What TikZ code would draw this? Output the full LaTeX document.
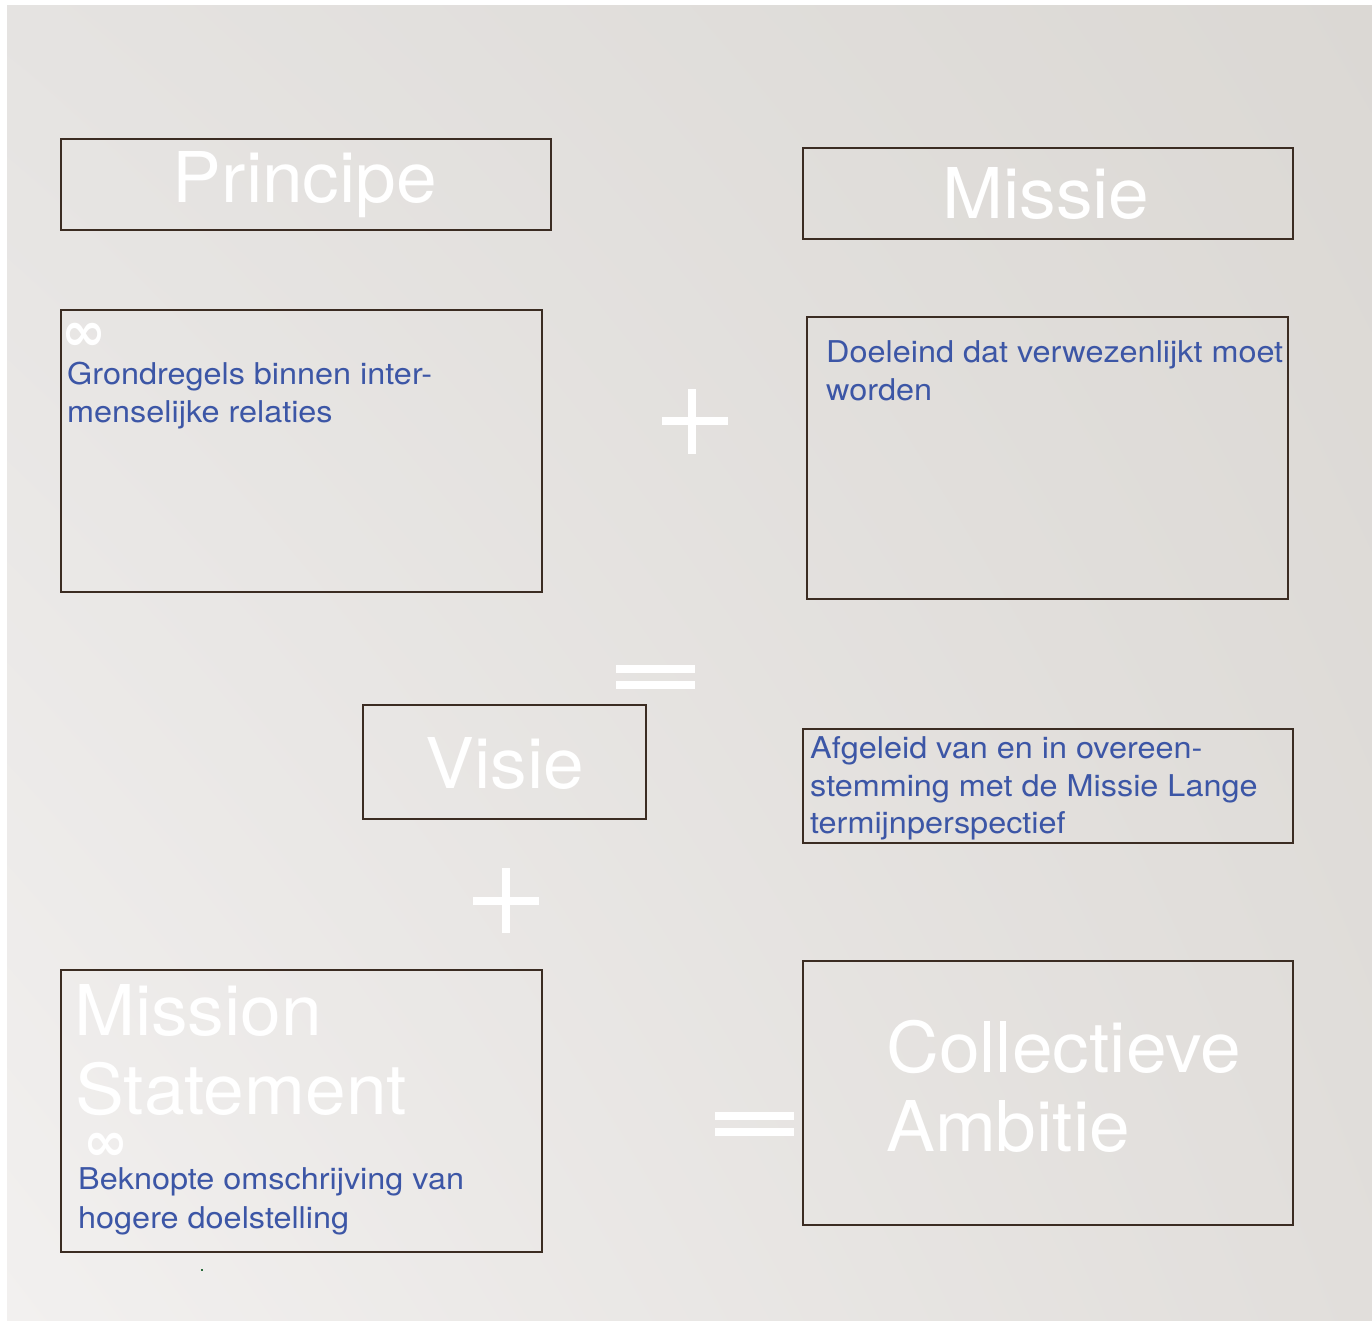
\documentclass[tikz,border=0pt]{standalone}
\usepackage{fontspec}
\usetikzlibrary{shadings}
\setmainfont{TeX Gyre Heros}[FakeStretch=1.045]
\newfontfamily\bodyfont{TeX Gyre Heros}[FakeStretch=1.08]
\newfontfamily\symfont{DejaVu Sans}
\definecolor{bordercol}{HTML}{3B2C22}
\definecolor{txtblue}{HTML}{3C56A6}
\definecolor{bgTL}{HTML}{E5E3E1}
\definecolor{bgTR}{HTML}{DBD8D4}
\definecolor{bgBL}{HTML}{F2F0EF}
\definecolor{bgBR}{HTML}{E1DEDB}
\definecolor{dotgreen}{HTML}{2A6A3A}
\tikzset{
  box/.style={draw=bordercol, line width=2.5pt, inner sep=0pt, fill=none},
  titletxt/.style={text=white, inner sep=0pt, font=\fontsize{70}{79}\selectfont},
  bodytxt/.style={text=txtblue, inner sep=0pt, anchor=base west, font=\bodyfont\fontsize{30}{38}\selectfont},
  inftxt/.style={text=white, inner sep=0pt, font=\symfont\bfseries\fontsize{54}{54}\selectfont},
  signbar/.style={fill=white, draw=none}
}
\begin{document}
\begin{tikzpicture}[x=1pt,y=-1pt]
\useasboundingbox (0,0) rectangle (1372,1320);
\fill[white] (0,0) rectangle (1372,1320);
\shade[upper left=bgTL, upper right=bgTR, lower left=bgBL, lower right=bgBR] (7,5) rectangle (1372,1320);

% boxes
\node[box, minimum width=490pt, minimum height=91pt] (principe) at (306,184.5) {};
\node[box, minimum width=490pt, minimum height=91pt] (missie) at (1048,193.5) {};
\node[box, minimum width=481pt, minimum height=282pt] (grond) at (301.5,451) {};
\node[box, minimum width=481pt, minimum height=282pt] (doel) at (1047.5,458) {};
\node[box, minimum width=283pt, minimum height=114pt] (visie) at (504.5,762) {};
\node[box, minimum width=490pt, minimum height=114pt] (afgel) at (1048,786) {};
\node[box, minimum width=481pt, minimum height=282pt] (mstat) at (301.5,1111) {};
\node[box, minimum width=490pt, minimum height=264pt] (ambit) at (1048,1093) {};

% titles
\node[titletxt, anchor=base] (tprin) at (305,202) {Principe};
\node[titletxt, anchor=base] (tmis) at (1046,218) {Missie};
\node[titletxt, anchor=base] (tvis) at (505,788) {Visie};
\node[titletxt, anchor=base west] (tms1) at (74,1035) {Mission};
\node[titletxt, anchor=base west, text depth=0pt] (tms2) at (75,1114) {Statement};
\node[titletxt, anchor=base west] (tca1) at (886,1072) {Collectieve};
\node[titletxt, anchor=base west] (tca2) at (886,1151) {Ambitie};

% infinity marks
\node[inftxt, anchor=center] (inf1) at (84,337) {∞};
\node[inftxt, anchor=center] (inf2) at (106,1147) {∞};

% body texts
\node[bodytxt] (g1) at (67,384) {Grondregels binnen inter-};
\node[bodytxt] (g2) at (67,422) {menselijke relaties};
\node[bodytxt] (d1) at (826,362) {Doeleind dat verwezenlijkt moet};
\node[bodytxt] (d2) at (826,400) {worden};
\node[bodytxt] (a1) at (810,758) {Afgeleid van en in overeen-};
\node[bodytxt] (a2) at (810,796) {stemming met de Missie Lange};
\node[bodytxt] (a3) at (810,833) {termijnperspectief};
\node[bodytxt] (b1) at (78,1189) {Beknopte omschrijving van};
\node[bodytxt] (b2) at (78,1228) {hogere doelstelling};

% plus 1
\fill[signbar] (662,417) rectangle (728,425);
\fill[signbar] (688,389) rectangle (696,454);
% equal 1
\fill[signbar] (616,665) rectangle (695,673);
\fill[signbar] (616,681) rectangle (695,689);
% plus 2
\fill[signbar] (473,897) rectangle (539,905);
\fill[signbar] (502,868) rectangle (510,933);
% equal 2
\fill[signbar] (715,1112) rectangle (794,1120);
\fill[signbar] (715,1128) rectangle (794,1136);

% stray dot
\fill[dotgreen] (201,1269) rectangle (203,1271);
\end{tikzpicture}
\end{document}
